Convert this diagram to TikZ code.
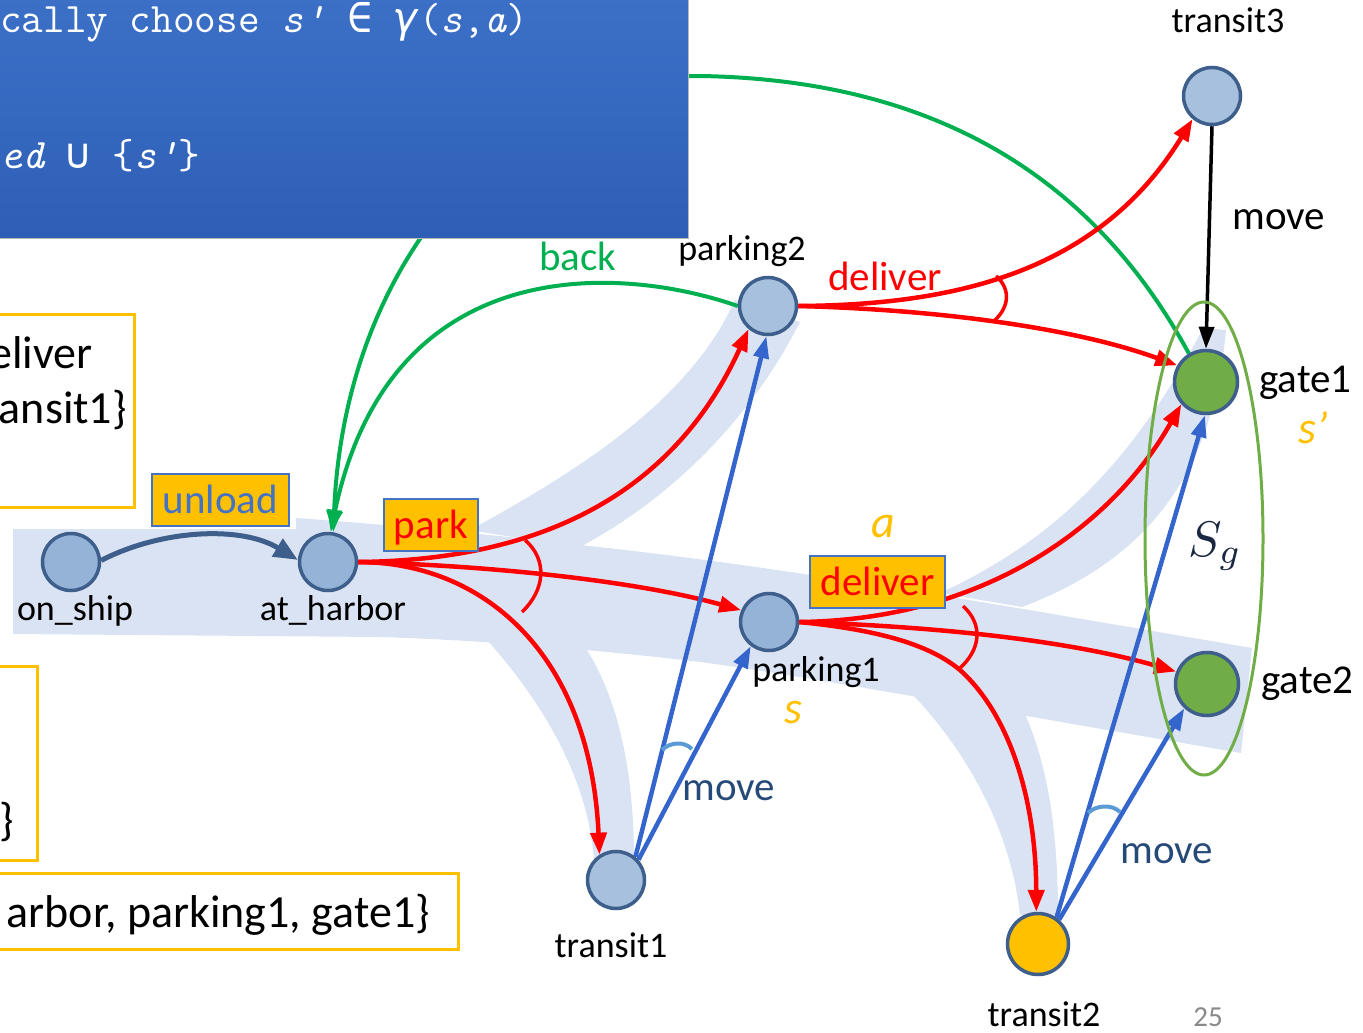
\documentclass[tikz,border=0pt]{standalone}
\usepackage{fontspec}
\setmainfont{Carlito}
\newfontfamily\codesym{DejaVu Sans Mono}
\usetikzlibrary{arrows.meta,calc}

\definecolor{bandc}{RGB}{218,227,243}
\definecolor{nodefill}{RGB}{149,179,215}
\definecolor{nodefilllt}{RGB}{167,192,222}
\definecolor{nodeedge}{RGB}{62,94,140}
\definecolor{gatefill}{RGB}{112,173,71}
\definecolor{goldc}{RGB}{255,192,0}
\definecolor{accblue}{RGB}{68,114,196}
\definecolor{movec}{RGB}{52,101,204}
\definecolor{movetext}{RGB}{38,74,120}
\definecolor{backc}{RGB}{0,176,80}
\definecolor{arcblue}{RGB}{91,155,213}
\definecolor{sgc}{RGB}{28,40,65}
\definecolor{ellc}{RGB}{112,173,71}
\definecolor{codetop}{RGB}{60,112,199}
\definecolor{codebot}{RGB}{46,95,183}
\definecolor{pagenum}{RGB}{137,137,137}

\newcommand{\cdi}[1]{{\itshape #1}}
\newcommand{\cds}[1]{{\codesym #1}}
\newcommand{\cdsi}[1]{{\codesym\itshape #1}}

\pgfdeclarelayer{bands}
\pgfdeclarelayer{edges}
\pgfsetlayers{bands,edges,main}

\begin{document}
\begin{tikzpicture}[x=1pt,y=-1pt,
  state/.style={circle, draw=nodeedge, line width=3.5pt, fill=nodefill,
    minimum size=57pt, inner sep=0pt},
  gatestate/.style={state, fill=gatefill, minimum size=63pt},
  lbl/.style={font=\fontsize{36}{40}\selectfont, inner sep=0pt, anchor=base},
  actlbl/.style={font=\fontsize{41}{46}\selectfont, inner sep=0pt, anchor=base},
  actbox/.style={draw=accblue, line width=2.5pt, fill=goldc, inner sep=0pt,
    font=\fontsize{41}{46}\selectfont, text height=26pt, text depth=0pt,
    minimum height=52pt},
  varlbl/.style={font=\fontsize{46}{50}\selectfont\itshape, text=goldc,
    inner sep=0pt, anchor=base},
  redarr/.style={draw=red, line width=4.5pt, -{Triangle[length=22pt,width=16pt]}},
  redtie/.style={draw=red, line width=3.5pt},
  movearr/.style={draw=movec, line width=4.5pt, -{Triangle[length=22pt,width=15pt]}},
  movetie/.style={draw=arcblue, line width=4pt},
  backarr/.style={draw=backc, line width=4pt, -{Triangle[length=22pt,width=15pt]}},
  boxtxt/.style={font=\fontsize{46}{50}\selectfont, inner sep=0pt, anchor=base east},
  codetxt/.style={font=\ttfamily\fontsize{42}{46}\selectfont, text=white,
    inner sep=0pt, anchor=base west},
  framebox/.style={draw=goldc, line width=3pt, fill=white},
]
\useasboundingbox (0,0) rectangle (1363,1033);

% ---------- states ----------
\node[state] (os) at (71,562) {};
\node[state] (ah) at (328,562) {};
\node[state, fill=nodefilllt] (p2) at (768,306) {};
\node[state] (p1) at (769,622) {};
\node[state, fill=nodefilllt] (t1) at (616,880) {};
\node[state, fill=nodefilllt] (t3) at (1212,96) {};
\node[gatestate] (g1) at (1206,382) {};
\node[gatestate] (g2) at (1207,684) {};
\node[gatestate, fill=goldc, minimum size=61pt] (t2) at (1038,944) {};

% ---------- highlighted solution bands ----------
\begin{pgfonlayer}{bands}
\fill[bandc] (13,529) -- (296,529) -- (296,518)
  .. controls (420,527) and (520,538) .. (580,545)
  .. controls (780,566) and (1000,605) .. (1252,648)
  -- (1241,753)
  .. controls (1000,712) and (800,675) .. (700,662)
  .. controls (600,650) and (480,640) .. (380,637)
  -- (13,634) -- cycle;
% branch to parking2
\fill[bandc] (470,530) .. controls (580,470) and (690,400) .. (735,300)
  -- (800,322) .. controls (745,430) and (660,505) .. (578,548) -- cycle;
% branch to transit1
\fill[bandc] (487,640) .. controls (545,705) and (588,780) .. (594,860)
  -- (634,860) .. controls (634,770) and (618,700) .. (587,650) -- cycle;
% branch to transit2
\fill[bandc] (912,694) .. controls (975,760) and (1012,840) .. (1020,915)
  -- (1058,915) .. controls (1058,820) and (1045,760) .. (1025,714) -- cycle;
% branch to gate1
\fill[bandc] (940,593) .. controls (1045,545) and (1130,470) .. (1203,328)
  -- (1226,330) .. controls (1214,460) and (1160,555) .. (1022,607) -- cycle;
\end{pgfonlayer}

% ---------- transitions ----------
\begin{pgfonlayer}{edges}
% unload
\draw[draw=nodeedge, line width=5pt, -{Triangle[length=24pt,width=20pt]}]
  (os.3) .. controls (160,530) and (240,525) .. (ah.176);
% back (two green arcs into at_harbor)
\draw[backarr] (g1.121) .. controls (1100,190) and (950,80) .. (700,76)
  .. controls (520,76) and (345,250) .. (ah.80);
\draw[backarr] (p2.west) .. controls (620,265) and (390,250) .. (ah.85);
% park
\draw[redarr] (ah.east) .. controls (560,560) and (680,480) .. (p2.230);
\draw[redarr] (ah.east) .. controls (500,566) and (640,582) .. (p1.157);
\draw[redarr] (ah.east) .. controls (480,562) and (590,650) .. (t1.123);
\draw[redtie] (525,540) .. controls (548,560) and (545,590) .. (522,612);
% deliver from parking2
\draw[redarr] (p2.east) .. controls (960,305) and (1100,270) .. (t3.230);
\draw[redarr] (p2.east) .. controls (950,310) and (1080,330) .. (g1.150);
\draw[redtie] (996,276) .. controls (1012,290) and (1008,308) .. (995,320);
% deliver from parking1
\draw[redarr] (p1.east) .. controls (980,620) and (1110,530) .. (g1.222);
\draw[redarr] (p1.east) .. controls (920,626) and (1060,638) .. (g2.158);
\draw[redarr] (p1.east) .. controls (880,630) and (930,645) .. (960,670)
  .. controls (1010,715) and (1036,800) .. (t2.93);
\draw[redtie] (963,606) .. controls (984,625) and (980,650) .. (960,668);
% move
\draw[movearr] (t1.50) -- (p2.267);
\draw[movearr] (t1.42) -- (p1.233);
\draw[movetie] (662,750) .. controls (670,742) and (684,741) .. (692,749);
\draw[movearr] (t2.55) -- (g1.268);
\draw[movearr] (t2.49) -- (g2.227);
\draw[movetie] (1088,813) .. controls (1096,805) and (1112,804) .. (1120,812);
\draw[draw=black, line width=3.5pt, -{Triangle[length=22pt,width=15pt]}]
  (t3.south) -- (g1.north);
% goal set
\draw[draw=ellc, line width=3pt] (1204,538.5) ellipse [x radius=59, y radius=236.5];
\end{pgfonlayer}

% ---------- state labels ----------
\node[lbl] (l-os) at (75,620) {on\_ship};
\node[lbl] (l-ah) at (333,620) {at\_harbor};
\node[lbl] (l-p2) at (742,260) {parking2};
\node[lbl] (l-p1) at (816,681) {parking1};
\node[lbl] (l-t1) at (611,957) {transit1};
\node[lbl] (l-t3) at (1228,33) {transit3};
\node[lbl] (l-t2) at (1044,1026) {transit2};
\node[actlbl, anchor=base west] (l-g1) at (1259,392) {gate1};
\node[actlbl, anchor=base west] (l-g2) at (1261,693) {gate2};

% ---------- action labels ----------
\node[actbox, minimum width=137pt, text=accblue] (a-unload) at (220.5,500) {unload};
\node[actbox, minimum width=94pt, text=red] (a-park) at (431,525) {park};
\node[actbox, minimum width=135pt, text=red] (a-deliver) at (877.5,582) {deliver};
\node[actlbl, text=red] (a-deliver2) at (885,290) {deliver};
\node[actlbl, text=backc] (a-back) at (578,270) {back};
\node[actlbl] (a-move3) at (1279,229) {move};
\node[actlbl, text=movetext] (a-move1) at (729,800) {move};
\node[actlbl, text=movetext] (a-move2) at (1167,863) {move};

% ---------- variables ----------
\node[varlbl] (v-sp) at (1313,443) {s'};
\node[varlbl] (v-s) at (793,723) {s};
\node[varlbl] (v-a) at (883,537) {a};
\node[inner sep=0pt, anchor=base west, text=sgc] (v-sg) at (1188,556)
  {\scalebox{5}{$S_g$}};

\node[inner sep=0pt, anchor=base, text=pagenum,
  font=\fontsize{29}{32}\selectfont] (pg) at (1208,1026) {25};

% ---------- algorithm box and side boxes ----------
\begin{scope}
\clip (0,0) rectangle (1363,1033);
\shade[top color=codetop, bottom color=codebot] (-5,-5) rectangle (688,238);
\draw[gray!55, line width=1pt] (-5,238) -- (688,238) -- (688,-5);
\node[codetxt] (code1) at (0,33)
  {cally choose \cdi{s'} \cds{∈} \cdsi{γ}(\cdi{s},\cdi{a})};
\node[codetxt] (code2) at (0,168) {\cdi{ed} \cds{∪} \{\cdi{s'}\}};

\draw[framebox] (-5,314) rectangle (134,507);
\node[boxtxt] (bx1a) at (93,368) {eliver};
\node[boxtxt] (bx1b) at (127,423) {ansit1\}};
\draw[framebox] (-5,666) rectangle (37,860);
\node[boxtxt] (bx2a) at (14,835) {\}};
\draw[framebox] (-5,873) rectangle (458,949);
\node[boxtxt] (bx3a) at (430,927) {arbor, parking1, gate1\}};
\end{scope}
\end{tikzpicture}
\end{document}
